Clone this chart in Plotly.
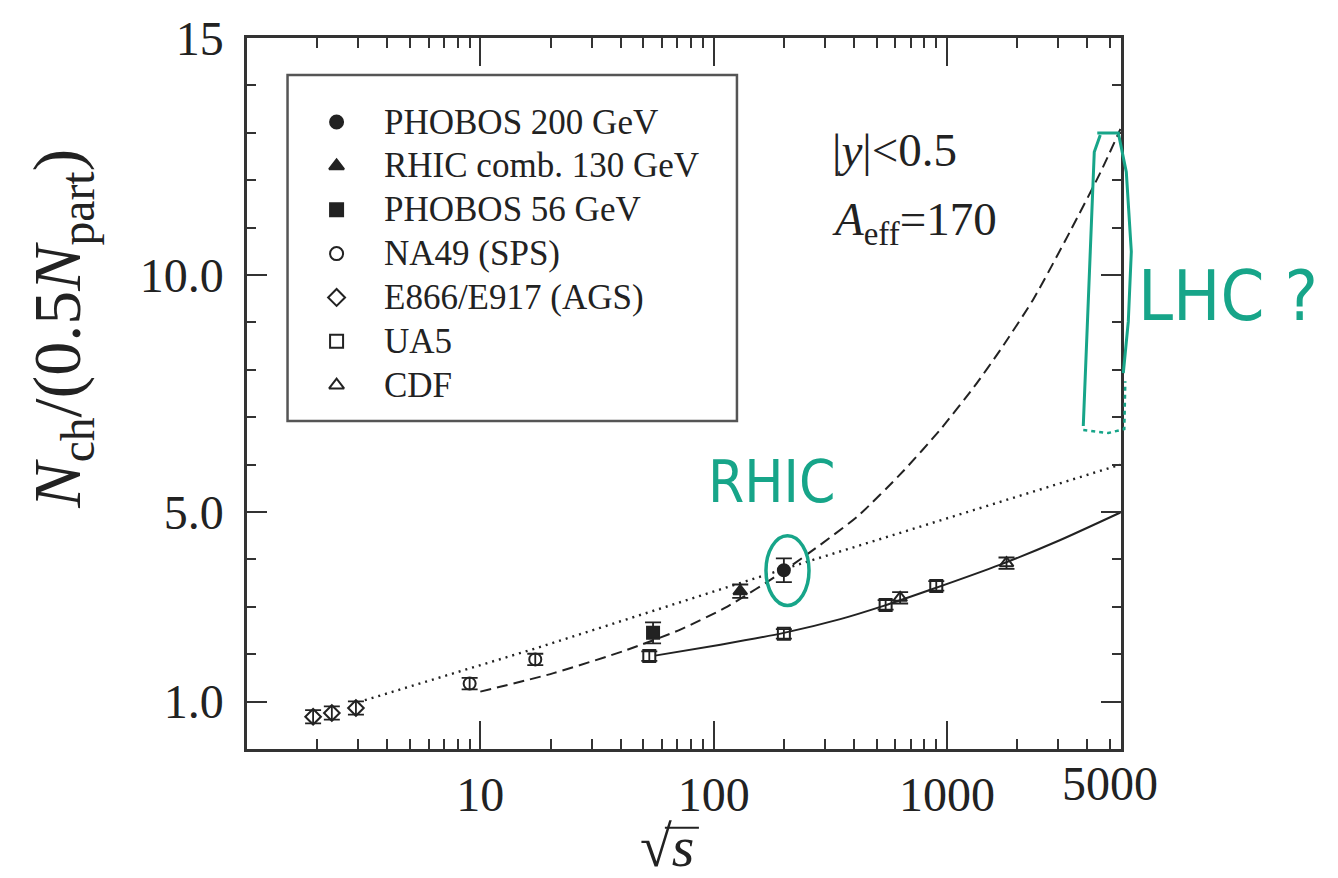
import plotly.graph_objects as go

# ---------------- data ----------------
phobos200_x = [200]
phobos200_y = [3.77]
phobos200_err = [0.25]

rhic130_x = [130]
rhic130_y = [3.33]
rhic130_err = [0.14]

phobos56_x = [55]
phobos56_y = [2.45]
phobos56_err = [0.22]

na49_x = [9.0, 17.2]
na49_y = [1.38, 1.89]
na49_err = [0.12, 0.12]

ags_x = [1.92, 2.31, 2.93]
ags_y = [0.68, 0.76, 0.865]
ags_err = [0.14, 0.14, 0.14]

ua5_x = [53, 200, 546, 900]
ua5_y = [1.96, 2.43, 3.04, 3.44]
ua5_err = [0.10, 0.10, 0.10, 0.10]

cdf_x = [630, 1800]
cdf_y = [3.19, 3.92]
cdf_err = [0.12, 0.12]

# curves
dashed_x = [10.0, 20.6, 42.5, 72.0, 114, 199, 412, 652, 937, 1302, 1694, 2353, 3380, 4545, 5540]
dashed_y = [1.21, 1.60, 2.09, 2.52, 3.00, 3.75, 4.90, 5.87, 6.74, 7.63, 8.42, 9.50, 10.93, 12.16, 13.08]

dotted_x = [3.2, 17.2, 251, 5540]
dotted_y = [1.03, 2.12, 3.95, 6.00]

solid_x = [56, 107, 200, 349, 535, 874, 1694, 3062, 5540]
solid_y = [1.97, 2.20, 2.45, 2.74, 3.02, 3.38, 3.89, 4.41, 4.99]

x_tickvals = [10, 100, 1000]
x_ticktext = ["10", "100", "1000"]
x_minor = [2, 3, 4, 5, 6, 7, 8, 9, 20, 30, 40, 50, 60, 70, 80, 90,
           200, 300, 400, 500, 600, 700, 800, 900, 2000, 3000, 4000, 5000]
x_extra_tick = [5000]
x_extra_text = ["5000"]
y_tickvals = [1, 5, 10, 15]
y_ticktext = ["1.0", "5.0", "10.0", "15"]
y_minor = [2, 3, 4, 6, 7, 8, 9, 11, 12, 13, 14]

legend_names = ["PHOBOS 200 GeV", "RHIC comb. 130 GeV", "PHOBOS 56 GeV",
                "NA49 (SPS)", "E866/E917 (AGS)", "UA5", "CDF"]
legend_symbols = ["circle", "triangle-up", "square", "circle-open",
                  "diamond-open", "square-open", "triangle-up-open"]

# ---------------- styling ----------------
INK = "#222222"
TEAL = "#17a589"
SERIF = "Liberation Serif, Times New Roman, serif"
HAND = "DejaVu Sans Condensed, DejaVu Sans, sans-serif"

PL, PR, PT, PB = 247.5, 1120.7, 35.7, 749.0


def pp(px, py):
    return (px - PL) / (PR - PL), (PB - py) / (PB - PT)


fig = go.Figure()


def err(arr):
    return dict(type="data", array=arr, visible=True, color=INK, thickness=1.8, width=8)


# curves
fig.add_trace(go.Scatter(x=dotted_x, y=dotted_y, mode="lines", showlegend=False,
                         line=dict(color=INK, width=2.4, dash="2px,5px"), hoverinfo="skip"))
fig.add_trace(go.Scatter(x=dashed_x, y=dashed_y, mode="lines", showlegend=False,
                         line=dict(color=INK, width=2, dash="11px,6px", shape="spline", smoothing=0.6),
                         hoverinfo="skip"))
fig.add_trace(go.Scatter(x=solid_x, y=solid_y, mode="lines", showlegend=False,
                         line=dict(color=INK, width=2, shape="spline", smoothing=0.6), hoverinfo="skip"))

series = [
    (phobos200_x, phobos200_y, phobos200_err),
    (rhic130_x, rhic130_y, rhic130_err),
    (phobos56_x, phobos56_y, phobos56_err),
    (na49_x, na49_y, na49_err),
    (ags_x, ags_y, ags_err),
    (ua5_x, ua5_y, ua5_err),
    (cdf_x, cdf_y, cdf_err),
]
for (xs, ys, es), name, sym in zip(series, legend_names, legend_symbols):
    fig.add_trace(go.Scatter(
        x=xs, y=ys, mode="markers", name=name, showlegend=False,
        marker=dict(symbol=sym, size=12, color=INK, line=dict(color=INK, width=2)),
        error_y=err(es)))

# dummy trace to carry the extra 5000 label axis
fig.add_trace(go.Scatter(x=[5000], y=[None], xaxis="x2", mode="markers",
                         showlegend=False, hoverinfo="skip"))

# ---------- hand-built legend (symbols on a pixel-scaled overlay axis) ----------
LEG_SYM_X = 337
LEG_TXT_X = 382
LEG_ROW0 = 120
LEG_STEP = 44
for i, (name, sym) in enumerate(zip(legend_names, legend_symbols)):
    ry = LEG_ROW0 + LEG_STEP * i
    fig.add_trace(go.Scatter(x=[LEG_SYM_X], y=[ry], xaxis="x3", yaxis="y3", mode="markers",
                             name=name, showlegend=False, hoverinfo="skip",
                             marker=dict(symbol=sym, size=13, color=INK,
                                         line=dict(color=INK, width=2))))
    tx, ty = pp(LEG_TXT_X, ry)
    fig.add_annotation(xref="paper", yref="paper", x=tx, y=ty, xanchor="left", yanchor="middle",
                       text=name, showarrow=False,
                       font=dict(family=SERIF, size=35, color=INK))

tickfont = dict(family=SERIF, size=48, color=INK)

fig.update_layout(
    width=1338, height=878,
    margin=dict(l=247, r=217, t=36, b=129),
    paper_bgcolor="white", plot_bgcolor="white",
    font=dict(family=SERIF, color=INK),
    showlegend=False,
    xaxis=dict(type="log", range=[0, 3.746], showgrid=False, zeroline=False,
               showline=True, linecolor="#333", linewidth=2.5, mirror="ticks",
               ticks="inside", ticklen=28, tickwidth=2, tickcolor="#333",
               tickvals=x_tickvals, ticktext=x_ticktext, tickfont=tickfont,
               ticklabelstandoff=2,
               minor=dict(tickvals=x_minor, ticks="inside", ticklen=10, tickwidth=2,
                          tickcolor="#333", showgrid=False)),
    xaxis2=dict(type="log", range=[0, 3.746], overlaying="x", anchor="y", side="bottom",
                showgrid=False, zeroline=False, showline=False, ticks="",
                tickvals=x_extra_tick, ticktext=x_extra_text, tickfont=tickfont,
                ticklabelstandoff=2),
    xaxis3=dict(range=[PL, PR], overlaying="x", anchor="y3", visible=False, fixedrange=True),
    yaxis3=dict(range=[PB, PT], overlaying="y", anchor="x3", visible=False, fixedrange=True),
    yaxis=dict(range=[0, 15], showgrid=False, zeroline=False,
               showline=True, linecolor="#333", linewidth=2.5, mirror="ticks",
               ticks="inside", ticklen=20, tickwidth=2, tickcolor="#333",
               tickvals=y_tickvals, ticktext=y_ticktext, tickfont=tickfont,
               ticklabelstandoff=11,
               minor=dict(tickvals=y_minor, ticks="inside", ticklen=9, tickwidth=2,
                          tickcolor="#333", showgrid=False)),
)

# legend frame
lx0, ly0 = pp(288, 420)
lx1, ly1 = pp(737, 72.7)
fig.add_shape(type="rect", xref="paper", yref="paper", x0=lx0, y0=ly0, x1=lx1, y1=ly1,
              line=dict(color="#555", width=2.5), fillcolor="rgba(0,0,0,0)", layer="above")

# text labels inside plot
ax, ay = pp(830, 148)
fig.add_annotation(xref="paper", yref="paper", x=ax, y=ay, xanchor="left", yanchor="middle",
                   text="|<i>y</i>|&lt;0.5", showarrow=False,
                   font=dict(family=SERIF, size=47, color=INK))
ax, ay = pp(830, 221)
fig.add_annotation(xref="paper", yref="paper", x=ax, y=ay, xanchor="left", yanchor="middle",
                   text="<i>A</i><sub>eff</sub>=170", showarrow=False,
                   font=dict(family=SERIF, size=47, color=INK))

# axis titles
ax, ay = pp(62, 327)
fig.add_annotation(xref="paper", yref="paper", x=ax, y=ay, xanchor="center", yanchor="middle",
                   textangle=-90, showarrow=False,
                   text="<i>N</i><sub>ch</sub>/(0.5<i>N</i><sub>part</sub>)",
                   font=dict(family=SERIF, size=68, color=INK))
ax, ay = pp(667, 847)
fig.add_annotation(xref="paper", yref="paper", x=ax, y=ay, xanchor="center", yanchor="middle",
                   showarrow=False, text="√<i>s</i>",
                   font=dict(family=SERIF, size=58, color=INK))
ox0, oy = pp(665, 828)
ox1, _ = pp(699, 828)
fig.add_shape(type="line", xref="paper", yref="paper", x0=ox0, y0=oy, x1=ox1, y1=oy,
              line=dict(color=INK, width=2.2))

# hand-drawn teal marks
ax, ay = pp(772, 481)
fig.add_annotation(xref="paper", yref="paper", x=ax, y=ay, xanchor="center", yanchor="middle",
                   text="RHIC", showarrow=False, font=dict(family=HAND, size=58, color=TEAL))
ax, ay = pp(1228, 295)
fig.add_annotation(xref="paper", yref="paper", x=ax, y=ay, xanchor="center", yanchor="middle",
                   text="LHC ?", showarrow=False, font=dict(family=HAND, size=70, color=TEAL))

ex0, ey0 = pp(766, 605)
ex1, ey1 = pp(809, 535)
fig.add_shape(type="circle", xref="paper", yref="paper", x0=ex0, y0=ey0, x1=ex1, y1=ey1,
              line=dict(color=TEAL, width=3.5))


def path(points):
    s = ""
    for i, (a, b) in enumerate(points):
        X, Y = pp(a, b)
        s += ("M" if i == 0 else "L") + f"{X:.5f},{Y:.5f} "
    return s


fig.add_shape(type="path", xref="paper", yref="paper", layer="above",
              path=path([(1100, 133), (1094, 150), (1090, 250), (1086, 350), (1083, 425)]),
              line=dict(color=TEAL, width=3))
fig.add_shape(type="path", xref="paper", yref="paper", layer="above",
              path=path([(1097, 131), (1118, 131), (1126, 170), (1131, 250), (1128, 320), (1123, 372)]),
              line=dict(color=TEAL, width=3))
fig.add_shape(type="path", xref="paper", yref="paper", layer="above",
              path=path([(1083, 429), (1108, 432), (1124, 428), (1125, 380)]),
              line=dict(color=TEAL, width=2.5, dash="4px,4px"))

fig.write_html("out.html")
